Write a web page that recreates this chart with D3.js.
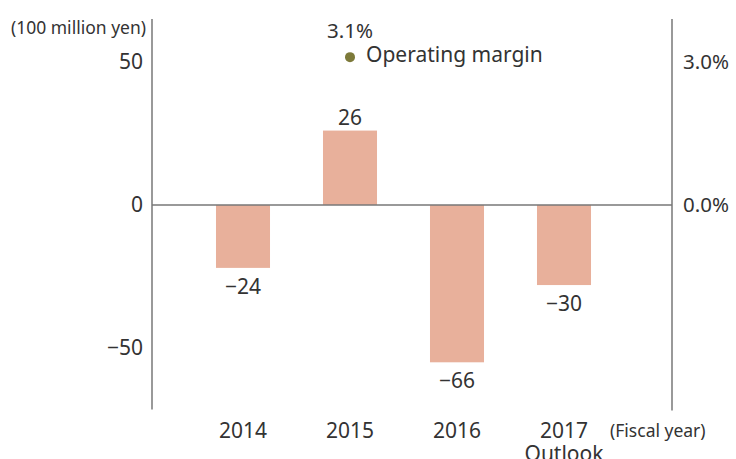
<!DOCTYPE html>
<html>
<head>
<meta charset="utf-8">
<script src="https://cdn.jsdelivr.net/npm/d3@7"></script>
<style>
  body { margin: 0; background: #fff; }
  text { font-family: "Noto Sans", sans-serif; fill: #333; }
</style>
</head>
<body>
<svg id="chart" width="736" height="459"></svg>
<script>
// fiscal years and operating income (100 million yen), bar lengths as drawn
var years = ["2014", "2015", "2016", "2017"];
var yearSub = ["", "", "", "Outlook"];
var income = [-22, 26, -55, -28];
var incomeLabels = ["\u221224", "26", "\u221266", "\u221230"];
// operating margin (%), only shown where positive
var marginYears = ["2015"];
var margin = [3.1];
var leftTicks = [50, 0, -50];
var rightTicks = [3.0, 0.0];

var svg = d3.select("#chart");

var plotTop = 19, plotBottom = 409.5, plotLeft = 152, plotRight = 672;
var fontFam = "\"Noto Sans\", sans-serif";

var ys = d3.scaleLinear().domain([-71.5, 65]).range([plotBottom, plotTop]);
var ys2 = d3.scaleLinear().domain([-71.5 * 3 / 50, 65 * 3 / 50]).range([plotBottom, plotTop]);
var xs = d3.scaleBand().domain(years).range([189.5, 617.5])
	.paddingInner(0.495).paddingOuter(0.2475);

// bars
svg.selectAll("rect.bar")
	.data(income)
	.enter().append("rect")
	.attr("class", "bar")
	.attr("x", function(d, i) { return xs(years[i]); })
	.attr("width", xs.bandwidth())
	.attr("y", function(d) { return d > 0 ? ys(d) : ys(0); })
	.attr("height", function(d) { return Math.abs(ys(d) - ys(0)); })
	.attr("fill", "#e8b09b");

// value labels
svg.selectAll("text.val")
	.data(income)
	.enter().append("text")
	.attr("class", "val")
	.attr("x", function(d, i) { return xs(years[i]) + xs.bandwidth() / 2; })
	.attr("y", function(d) { return d > 0 ? ys(d) - 6 : ys(d) + 26; })
	.attr("text-anchor", "middle")
	.attr("font-size", "21px")
	.text(function(d, i) { return incomeLabels[i]; });

// axes lines
var axisColor = "#777";
svg.append("line").attr("x1", plotLeft).attr("x2", plotLeft).attr("y1", plotTop).attr("y2", plotBottom)
	.attr("stroke", axisColor).attr("stroke-width", 1.5);
svg.append("line").attr("x1", plotRight).attr("x2", plotRight).attr("y1", plotTop).attr("y2", plotBottom + 1)
	.attr("stroke", axisColor).attr("stroke-width", 1.5);
svg.append("line").attr("x1", plotLeft).attr("x2", plotRight).attr("y1", ys(0)).attr("y2", ys(0))
	.attr("stroke", axisColor).attr("stroke-width", 1.5);

// left axis
var gl = svg.append("g").attr("transform", "translate(" + plotLeft + ",0)")
	.call(d3.axisLeft(ys).tickValues(leftTicks).tickSize(0).tickPadding(9)
		.tickFormat(function(d) { return d < 0 ? "\u2212" + Math.abs(d) : d; }));
gl.select(".domain").remove();
gl.selectAll("text").attr("font-size", "21px").attr("fill", "#333")
	.attr("font-family", fontFam);

// right axis
var gr = svg.append("g").attr("transform", "translate(" + plotRight + ",0)")
	.call(d3.axisRight(ys2).tickValues(rightTicks).tickSize(0).tickPadding(11)
		.tickFormat(function(d) { return d.toFixed(1) + "%"; }));
gr.select(".domain").remove();
gr.selectAll("text").attr("font-size", "20.5px").attr("fill", "#333")
	.attr("font-family", fontFam);

// x labels
svg.selectAll("text.year")
	.data(years)
	.enter().append("text")
	.attr("class", "year")
	.attr("x", function(d) { return xs(d) + xs.bandwidth() / 2; })
	.attr("y", 438)
	.attr("text-anchor", "middle")
	.attr("font-size", "21px")
	.text(function(d) { return d; });
svg.selectAll("text.sub")
	.data(yearSub)
	.enter().append("text")
	.attr("class", "sub")
	.attr("x", function(d, i) { return xs(years[i]) + xs.bandwidth() / 2; })
	.attr("y", 461)
	.attr("text-anchor", "middle")
	.attr("font-size", "21px")
	.text(function(d) { return d; });

// units
svg.append("text").attr("x", 146).attr("y", 34).attr("text-anchor", "end")
	.attr("font-size", "17.5px").text("(100 million yen)");
svg.append("text").attr("x", 610).attr("y", 437)
	.attr("font-size", "17.5px").text("(Fiscal year)");

// operating margin dot
var mx = function(i) { return xs(marginYears[i]) + xs.bandwidth() / 2; };
svg.selectAll("circle.margin")
	.data(margin)
	.enter().append("circle")
	.attr("class", "margin")
	.attr("cx", function(d, i) { return mx(i); })
	.attr("cy", function(d) { return ys2(d); })
	.attr("r", 5)
	.attr("fill", "#7d7a3a");
svg.selectAll("text.mlabel")
	.data(margin)
	.enter().append("text")
	.attr("class", "mlabel")
	.attr("x", function(d, i) { return mx(i); })
	.attr("y", function(d) { return ys2(d) - 19; })
	.attr("text-anchor", "middle")
	.attr("font-size", "20.5px")
	.text(function(d) { return d.toFixed(1) + "%"; });
svg.append("text")
	.attr("x", mx(0) + 16)
	.attr("y", ys2(margin[0]) + 5)
	.attr("font-size", "21px")
	.text("Operating margin");
</script>
</body>
</html>
